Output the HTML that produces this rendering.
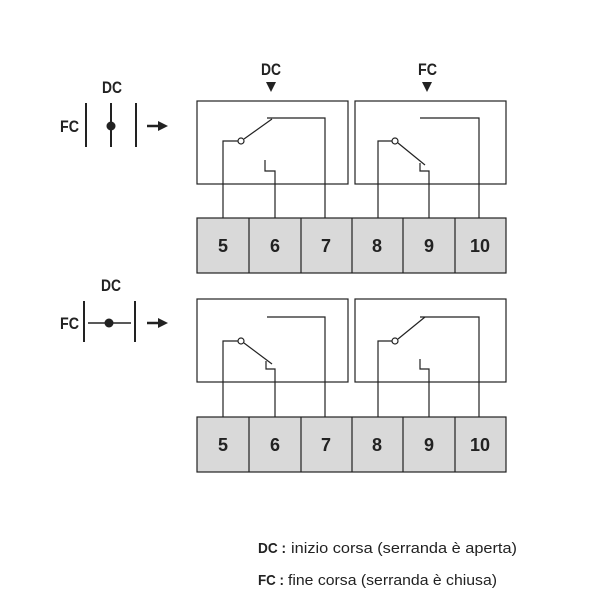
<!DOCTYPE html>
<html><head><meta charset="utf-8"><style>body{margin:0;background:#fff}svg{display:block}</style></head><body>
<svg width="600" height="600" viewBox="0 0 600 600" xmlns="http://www.w3.org/2000/svg" font-family="'Liberation Sans',sans-serif">
<g fill="none" stroke="#222" stroke-width="1.2">
<rect x="197" y="101" width="151" height="83"/>
<rect x="355" y="101" width="151" height="83"/>
<rect x="197" y="218" width="309" height="55" fill="#d9d9d9"/>
<line x1="249" y1="218" x2="249" y2="273"/><line x1="301" y1="218" x2="301" y2="273"/>
<line x1="352" y1="218" x2="352" y2="273"/><line x1="403" y1="218" x2="403" y2="273"/>
<line x1="455" y1="218" x2="455" y2="273"/>
<polyline points="223,218 223,141 238,141"/>
<line x1="244" y1="139" x2="272" y2="119"/>
<polyline points="267,118 325,118 325,218"/>
<polyline points="265,160 265,171 275,171 275,218"/>
<polyline points="378,218 378,141 392,141"/>
<line x1="398" y1="143" x2="425" y2="165"/>
<polyline points="420,118 479,118 479,218"/>
<polyline points="420,163 420,171 429,171 429,218"/>
<rect x="197" y="299" width="151" height="83"/>
<rect x="355" y="299" width="151" height="83"/>
<rect x="197" y="417" width="309" height="55" fill="#d9d9d9"/>
<line x1="249" y1="417" x2="249" y2="472"/><line x1="301" y1="417" x2="301" y2="472"/>
<line x1="352" y1="417" x2="352" y2="472"/><line x1="403" y1="417" x2="403" y2="472"/>
<line x1="455" y1="417" x2="455" y2="472"/>
<polyline points="223,417 223,341 238,341"/>
<line x1="244" y1="343" x2="272" y2="364"/>
<polyline points="267,317 325,317 325,417"/>
<polyline points="266,361 266,369 275,369 275,417"/>
<polyline points="378,417 378,341 392,341"/>
<line x1="398" y1="339" x2="425" y2="317"/>
<polyline points="420,317 479,317 479,417"/>
<polyline points="420,359 420,369 429,369 429,417"/>
</g>
<g fill="#fff" stroke="#222" stroke-width="1.2">
<circle cx="241" cy="141" r="3"/><circle cx="395" cy="141" r="3"/>
<circle cx="241" cy="341" r="3"/><circle cx="395" cy="341" r="3"/>
</g>
<polygon points="266,82 276,82 271,92" fill="#222"/>
<polygon points="422,82 432,82 427,92" fill="#222"/>
<g stroke="#222" stroke-width="2">
<line x1="86" y1="103" x2="86" y2="147"/><line x1="111" y1="103" x2="111" y2="147"/><line x1="136" y1="103" x2="136" y2="147"/>
<line x1="147" y1="126" x2="160" y2="126" stroke-width="2.5"/>
<line x1="84" y1="301" x2="84" y2="342"/><line x1="135" y1="301" x2="135" y2="342"/>
<line x1="88" y1="323" x2="131" y2="323" stroke-width="1.5"/>
<line x1="147" y1="323" x2="160" y2="323" stroke-width="2.5"/>
</g>
<circle cx="111" cy="126" r="4.5" fill="#222"/>
<circle cx="109" cy="323" r="4.5" fill="#222"/>
<polygon points="158,121 168,126 158,131" fill="#222"/>
<polygon points="158,318 168,323 158,328" fill="#222"/>
<g font-weight="bold" fill="#222" font-size="17" lengthAdjust="spacingAndGlyphs">
<text x="102" y="93" textLength="20" lengthAdjust="spacingAndGlyphs">DC</text>
<text x="60" y="132" textLength="19" lengthAdjust="spacingAndGlyphs">FC</text>
<text x="101" y="291" textLength="20" lengthAdjust="spacingAndGlyphs">DC</text>
<text x="60" y="329" textLength="19" lengthAdjust="spacingAndGlyphs">FC</text>
<text x="261" y="75" textLength="20" lengthAdjust="spacingAndGlyphs">DC</text>
<text x="418" y="75" textLength="19" lengthAdjust="spacingAndGlyphs">FC</text>
</g>
<g font-weight="bold" fill="#222" font-size="18" text-anchor="middle">
<text x="223" y="252">5</text><text x="275" y="252">6</text><text x="326" y="252">7</text>
<text x="377" y="252">8</text><text x="429" y="252">9</text><text x="480" y="252">10</text>
<text x="223" y="451">5</text><text x="275" y="451">6</text><text x="326" y="451">7</text>
<text x="377" y="451">8</text><text x="429" y="451">9</text><text x="480" y="451">10</text>
</g>
<g fill="#222" font-size="15">
<text x="258" y="553" font-weight="bold" textLength="28" lengthAdjust="spacingAndGlyphs">DC :</text>
<text x="291" y="553" textLength="226" lengthAdjust="spacingAndGlyphs">inizio corsa (serranda è aperta)</text>
<text x="258" y="585" font-weight="bold" textLength="26" lengthAdjust="spacingAndGlyphs">FC :</text>
<text x="288" y="585" textLength="209" lengthAdjust="spacingAndGlyphs">fine corsa (serranda è chiusa)</text>
</g>
</svg>
</body></html>
